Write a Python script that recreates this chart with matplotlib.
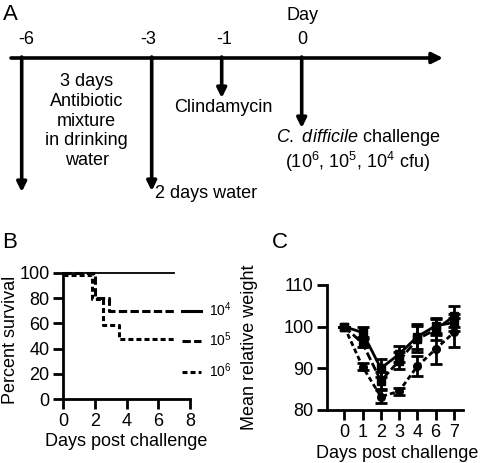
import matplotlib
matplotlib.use("Agg")
import matplotlib.pyplot as plt
from matplotlib.lines import Line2D

plt.rcParams['font.family'] = ['Liberation Sans', 'DejaVu Sans']
plt.rcParams['mathtext.fontset'] = 'custom'
plt.rcParams['mathtext.rm'] = 'Liberation Sans'
plt.rcParams['mathtext.it'] = 'Liberation Sans:italic'
plt.rcParams['lines.scale_dashes'] = False

# ---------------- data ----------------
# Panel A timeline
day_labels = ["-6", "-3", "-1", "0"]
# Panel B survival (Kaplan-Meier steps)
surv_t_1e4 = [0, 7]
surv_1e4 = [100, 100]
surv_t_1e5 = [0, 2.0, 2.9, 7]
surv_1e5 = [100, 80, 70, 70]
surv_t_1e6 = [0, 1.8, 2.5, 3.5, 7]
surv_1e6 = [98, 79, 59, 48, 48]
dose_labels = ["10$^4$", "10$^5$", "10$^6$"]
# Panel C weight
weight_days = ["0", "1", "2", "3", "4", "6", "7"]
w_1e4 = [100, 98.6, 90.0, 93.4, 97.6, 100.2, 101.0]
e_1e4 = [0, 1.2, 2.2, 2.0, 3.0, 1.8, 2.0]
w_1e5 = [100, 96.0, 87.0, 91.8, 97.0, 99.3, 102.5]
e_1e5 = [0, 1.0, 2.0, 2.0, 3.2, 2.6, 2.5]
w_1e6 = [100, 90.4, 83.2, 84.5, 90.5, 94.6, 98.6]
e_1e6 = [0, 0.9, 1.5, 0.8, 2.4, 3.5, 3.5]

W, H = 480, 463
fig = plt.figure(figsize=(W / 100, H / 100), dpi=100)

# ---------------- Panel A ----------------
axA = fig.add_axes([0, 0, 1, 1])
axA.set_xlim(0, W)
axA.set_ylim(H, 0)
axA.axis('off')

fs = 13
line_y = 58
axA.annotate('', xy=(443, line_y), xytext=(11, line_y),
             arrowprops=dict(arrowstyle='-|>', lw=2.6, color='k',
                             mutation_scale=16, shrinkA=0, shrinkB=0))
arrow_x = [21.7, 151.7, 221.7, 301.7]
arrow_end = [192, 191, 98, 128]
label_x = [26.5, 148, 224, 302.5]
for xa, ye, xl, lab in zip(arrow_x, arrow_end, label_x, day_labels):
    axA.annotate('', xy=(xa, ye), xytext=(xa, line_y - 1),
                 arrowprops=dict(arrowstyle='-|>', lw=2.6, color='k',
                                 mutation_scale=14, shrinkA=0, shrinkB=0))
    axA.text(xl, 40, lab, fontsize=fs, ha='center', va='center')
axA.text(302.5, 15, "Day", fontsize=fs, ha='center', va='center')
axA.text(3, 14, "A", fontsize=16, ha='left', va='center')
axA.text(86.7, 121, "3 days\nAntibiotic\nmixture\nin drinking\nwater",
         fontsize=fs, ha='center', va='center', linespacing=1.2)
axA.text(155, 193, "2 days water", fontsize=fs, ha='left', va='center')
axA.text(223, 107, "Clindamycin", fontsize=fs, ha='center', va='center')
axA.text(358, 137, r"$\it{C.\ difficile}$ challenge", fontsize=fs,
         ha='center', va='center')
axA.text(358, 162, "(10$^6$, 10$^5$, 10$^4$ cfu)", fontsize=fs,
         ha='center', va='center')
axA.text(2, 243, "B", fontsize=16, ha='left', va='center')
axA.text(272, 243, "C", fontsize=16, ha='left', va='center')

# ---------------- Panel B ----------------
spine_lw = 2.0
bx0, bx1, by0, by1 = 63.3, 190, 399.3, 272.7
axB = fig.add_axes([bx0 / W, 1 - by0 / H, (bx1 - bx0) / W, (by0 - by1) / H])
long_dash = (0, (6.0, 2.4))
short_dash = (0, (3.6, 2.2))
axB.step(surv_t_1e4, surv_1e4, where='post', color='k', lw=1.3, clip_on=False)
axB.step(surv_t_1e5, surv_1e5, where='post', color='k', lw=2.2,
         linestyle=long_dash, clip_on=False)
axB.step(surv_t_1e6, surv_1e6, where='post', color='k', lw=2.2,
         linestyle=short_dash, clip_on=False)
axB.set_xlim(0, 8)
axB.set_ylim(0, 100)
axB.set_xticks([0, 2, 4, 6, 8])
axB.set_yticks([0, 20, 40, 60, 80, 100])
for s in ['top', 'right']:
    axB.spines[s].set_visible(False)
for s in ['left', 'bottom']:
    axB.spines[s].set_linewidth(spine_lw)
axB.tick_params(width=spine_lw, length=7, labelsize=fs, pad=3)
axB.set_ylabel("Percent survival", fontsize=fs, va='center')
axB.yaxis.set_label_coords((11 - bx0) / (bx1 - bx0), 0.47)
axB.set_xlabel("Days post challenge", fontsize=fs, va='center')
axB.xaxis.set_label_coords(0.5, -(441 - by0) / (by0 - by1))
h4 = Line2D([], [], color='k', lw=2.2)
h5 = Line2D([], [], color='k', lw=2.2, linestyle=long_dash)
h6 = Line2D([], [], color='k', lw=2.2, linestyle=short_dash)
axB.legend([h4, h5, h6], dose_labels, loc='center left',
           bbox_to_anchor=(0.937, 0.468), frameon=False, fontsize=10,
           handlelength=1.4, handletextpad=0.55, borderpad=0,
           borderaxespad=0, labelspacing=0.85)

# ---------------- Panel C ----------------
cx0, cx1, cy0, cy1 = 327.3, 463, 410, 285
axC = fig.add_axes([cx0 / W, 1 - cy0 / H, (cx1 - cx0) / W, (cy0 - cy1) / H])
xpos = list(range(len(weight_days)))
axC.errorbar(xpos, w_1e4, yerr=e_1e4, color='k', lw=2.0, marker='s', ms=5.5,
             capsize=4, capthick=2, elinewidth=2, clip_on=False)
axC.errorbar(xpos, w_1e5, yerr=e_1e5, color='k', lw=2.0, marker='s', ms=5.5,
             linestyle=long_dash, capsize=4, capthick=2, elinewidth=2, clip_on=False)
axC.errorbar(xpos, w_1e6, yerr=e_1e6, color='k', lw=2.0, marker='o', ms=5.5,
             linestyle=short_dash, capsize=4, capthick=2, elinewidth=2, clip_on=False)
axC.set_xlim(-0.93, 6.5)
axC.set_ylim(80, 110)
axC.set_xticks(xpos)
axC.set_xticklabels(weight_days)
axC.set_yticks([80, 90, 100, 110])
for s in ['top', 'right']:
    axC.spines[s].set_visible(False)
for s in ['left', 'bottom']:
    axC.spines[s].set_linewidth(spine_lw)
axC.tick_params(width=spine_lw, length=7, labelsize=fs, pad=3)
axC.set_ylabel("Mean relative weight", fontsize=fs, va='center')
axC.yaxis.set_label_coords((250 - cx0) / (cx1 - cx0), 0.5)
axC.set_xlabel("Days post challenge", fontsize=fs, va='center')
axC.xaxis.set_label_coords((397 - cx0) / (cx1 - cx0), -(453 - cy0) / (cy0 - cy1))

fig.savefig("out.png", dpi=100)
